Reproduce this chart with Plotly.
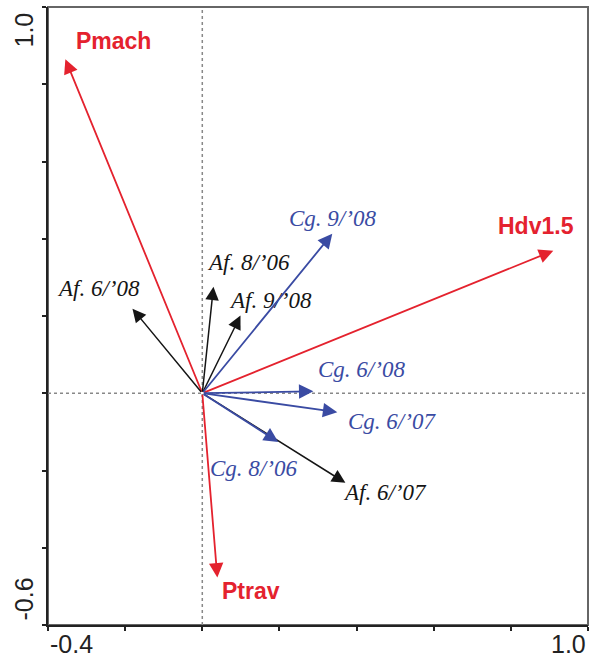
import numpy as np
import plotly.graph_objects as go

# Environmental variables (red)
env_names = ["Pmach", "Hdv1.5", "Ptrav"]
env_x = [-0.355, 0.910, 0.039]
env_y = [0.865, 0.369, -0.477]

# Af. species-date vectors (black)
af_names = ["Af. 6/’08", "Af. 8/’06", "Af. 9/’08", "Af. 6/’07"]
af_x = [-0.181, 0.029, 0.099, 0.371]
af_y = [0.219, 0.276, 0.201, -0.232]

# Cg. species-date vectors (blue)
cg_names = ["Cg. 9/’08", "Cg. 6/’08", "Cg. 6/’07", "Cg. 8/’06"]
cg_x = [0.337, 0.288, 0.350, 0.197]
cg_y = [0.413, 0.005, -0.049, -0.126]

# axis ranges
x_range = [-0.4, 1.0]
y_range = [-0.6, 1.0]

# label offsets (layout, data units relative to arrow tip)
env_off = [(0.124, 0.046), (-0.044, 0.065), (0.088, -0.034)]
af_off = [(-0.089, 0.052), (0.090, 0.062), (0.077, 0.039), (0.103, -0.026)]
cg_off = [(0.000, 0.039), (0.124, 0.057), (0.143, -0.023), (-0.065, -0.070)]

RED = "#e4222e"
BLUE = "#3a4ba3"
BLACK = "#151515"

fig = go.Figure()
fig.add_trace(go.Scatter(x=[0], y=[0], mode="markers", marker=dict(opacity=0),
                         hoverinfo="skip", showlegend=False))

ann = []

def add_group(names, xs, ys, offs, color, width, size, font, italic):
    for n, x, y, (dx, dy) in zip(names, xs, ys, offs):
        ann.append(dict(x=x, y=y, ax=0, ay=0, xref="x", yref="y", axref="x", ayref="y",
                        text="", showarrow=True, arrowhead=2, arrowsize=size,
                        arrowwidth=width, arrowcolor=color, standoff=0))
        ann.append(dict(x=x + dx, y=y + dy, xref="x", yref="y",
                        text=("<i>%s</i>" % n) if italic else n, showarrow=False,
                        font=dict(color=color, **font), xanchor="center", yanchor="middle"))

serif = dict(family="Liberation Serif", size=23)
add_group(env_names, env_x, env_y, env_off, RED, 1.8, 1.6,
          dict(family="Liberation Sans", size=23, weight="bold"), False)
add_group(af_names, af_x, af_y, af_off, BLACK, 1.5, 1.8, serif, True)
add_group(cg_names, cg_x, cg_y, cg_off, BLUE, 1.8, 1.6, serif, True)

tickfont = dict(family="Liberation Sans", size=25, color="#222")
ann += [
    dict(x=x_range[0], y=0, xref="x", yref="paper", yshift=-3, text="-0.4", showarrow=False,
         xanchor="left", yanchor="top", font=tickfont),
    dict(x=x_range[1], y=0, xref="x", yref="paper", yshift=-3, text="1.0", showarrow=False,
         xanchor="right", yanchor="top", font=tickfont),
    dict(x=0, y=y_range[1], xref="paper", yref="y", xshift=-25, yshift=-4, text="1.0", showarrow=False,
         textangle=-90, xanchor="center", yanchor="top", font=tickfont),
    dict(x=0, y=y_range[0], xref="paper", yref="y", xshift=-25, yshift=2, text="-0.6", showarrow=False,
         textangle=-90, xanchor="center", yanchor="bottom", font=tickfont),
]

shapes = [
    dict(type="line", xref="x", yref="y", x0=0, x1=0, y0=y_range[0], y1=y_range[1],
         line=dict(color="#888", width=1.5, dash="dot"), layer="below"),
    dict(type="line", xref="x", yref="y", x0=x_range[0], x1=x_range[1], y0=0, y1=0,
         line=dict(color="#888", width=1.5, dash="dot"), layer="below"),
    dict(type="rect", xref="x domain", yref="y domain", x0=0, x1=1, y0=0, y1=1,
         line=dict(color="#666", width=2), layer="below"),
]

axis_common = dict(showgrid=False, zeroline=False, showline=True, linecolor="#222", linewidth=2,
                   ticks="outside", ticklen=4, tickwidth=2, tickcolor="#222", showticklabels=False)

fig.update_layout(
    width=591, height=658,
    margin=dict(l=48, r=3, t=7, b=33),
    plot_bgcolor="white", paper_bgcolor="white",
    xaxis=dict(range=x_range, tickvals=list(np.round(np.arange(-0.4, 1.01, 0.2), 2)), **axis_common),
    yaxis=dict(range=y_range, tickvals=list(np.round(np.arange(-0.6, 1.01, 0.2), 2)), **axis_common),
    annotations=ann, shapes=shapes,
)

fig.write_html("out.html", config={"displayModeBar": False},
               post_script="document.body.style.margin='0';document.body.style.overflow='hidden';")
